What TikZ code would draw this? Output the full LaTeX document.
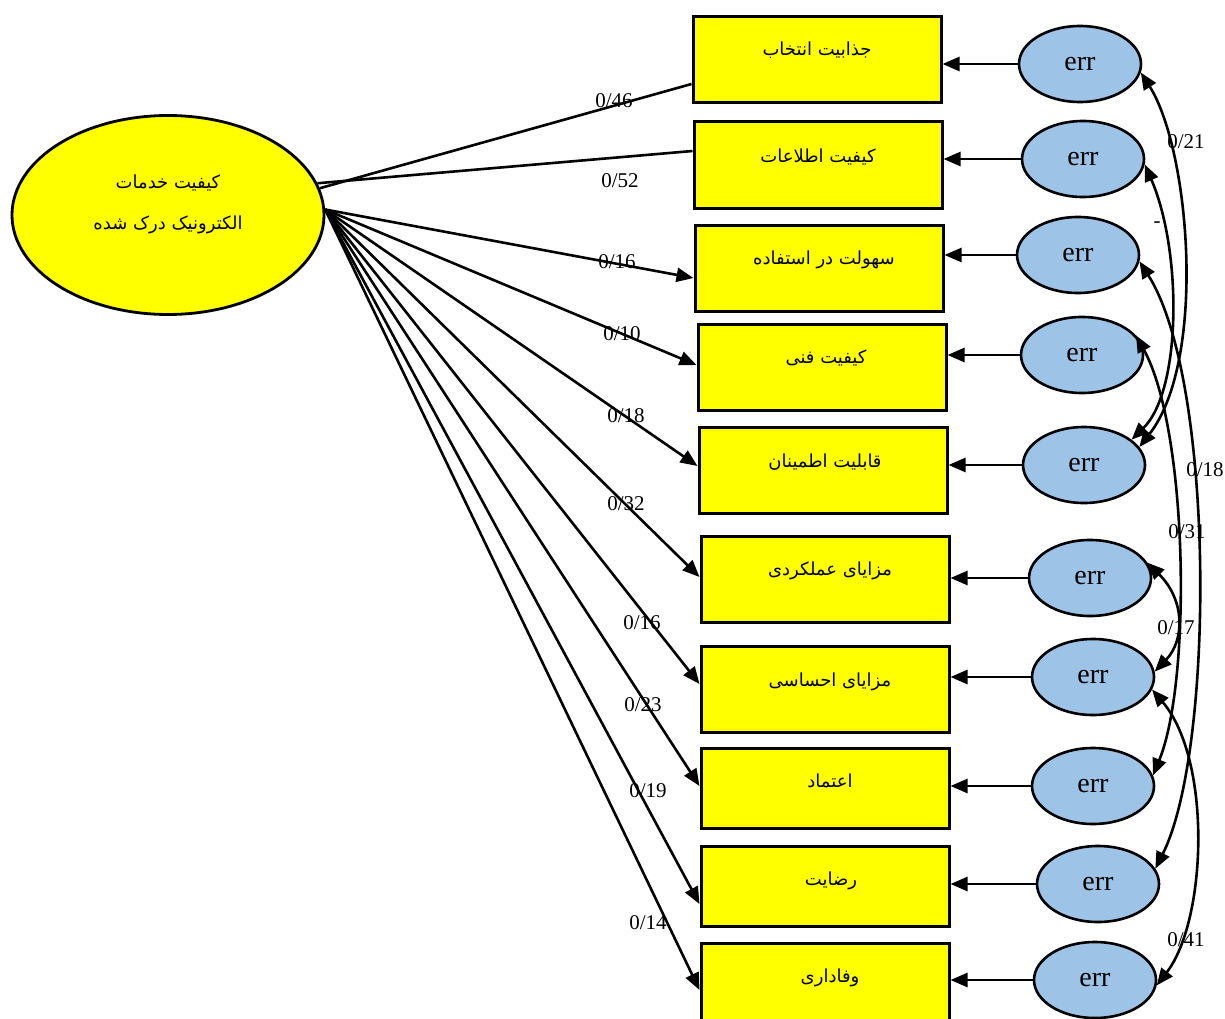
\documentclass[tikz,border=0pt]{standalone}
\usepackage{fontspec}
\setmainfont{Liberation Serif}
\newfontfamily\arabicfont[Script=Arabic]{DejaVu Sans}
\TeXXeTstate=1
\usetikzlibrary{arrows.meta,shapes.geometric,calc}
\definecolor{errblue}{RGB}{157,195,230}
\definecolor{boxyellow}{RGB}{255,255,0}
\begin{document}
\begin{tikzpicture}[x=1pt,y=-1pt,
  box/.style={draw,line width=3pt,fill=boxyellow,minimum width=248pt,minimum height=86pt,inner sep=0pt},
  errn/.style={ellipse,draw,line width=2.6pt,fill=errblue,minimum width=122pt,minimum height=76pt,inner sep=0pt,font=\fontsize{28}{30}\selectfont},
  ptext/.style={font=\arabicfont\fontsize{18}{20}\selectfont,inner sep=0pt},
  coef/.style={font=\fontsize{21}{24}\selectfont,inner sep=0pt},
  lnk/.style={line width=2.6pt},
  arr/.style={line width=2.6pt,-{Triangle[length=17pt,width=14pt]}},
  cov/.style={line width=2.6pt,{Triangle[length=17pt,width=14pt]}-{Triangle[length=17pt,width=14pt]}}]
\path[use as bounding box] (0,0) rectangle (1225,1019);
\clip (0,0) rectangle (1225,1019);

% latent factor
\node[ellipse,draw,line width=2.8pt,fill=boxyellow,minimum width=312pt,minimum height=199pt,inner sep=0pt] (F) at (168,215) {};
\node[ptext] (Ft1) at (168,183) {\beginR کیفیت خدمات\endR};
\node[ptext] (Ft2) at (168,225) {\beginR الکترونیک درک شده\endR};

% indicator boxes
\node[box] (b1) at (817,60) {};
\node[box] (b2) at (818,165) {};
\node[box] (b3) at (819,268) {};
\node[box] (b4) at (822,367) {};
\node[box] (b5) at (823,470) {};
\node[box] (b6) at (825,579) {};
\node[box] (b7) at (825,689) {};
\node[box,minimum height=80pt] (b8) at (825,788) {};
\node[box,minimum height=80pt] (b9) at (825,886) {};
\node[box] (b10) at (825,986) {};

\node[ptext] (t1) at (817,50) {\beginR جذابیت انتخاب\endR};
\node[ptext] (t2) at (818,157) {\beginR کیفیت اطلاعات\endR};
\node[ptext] (t3) at (824,260) {\beginR سهولت در استفاده\endR};
\node[ptext] (t4) at (826,358) {\beginR کیفیت فنی\endR};
\node[ptext] (t5) at (825,462) {\beginR قابلیت اطمینان\endR};
\node[ptext] (t6) at (830,571) {\beginR مزایای عملکردی\endR};
\node[ptext] (t7) at (830,682) {\beginR مزایای احساسی\endR};
\node[ptext] (t8) at (830,781) {\beginR اعتماد\endR};
\node[ptext] (t9) at (831,881) {\beginR رضایت\endR};
\node[ptext] (t10) at (830,978) {\beginR وفاداری\endR};

% error terms
\node[errn] (e1) at (1080,64) {err};
\node[errn] (e2) at (1083,159) {err};
\node[errn] (e3) at (1078,255) {err};
\node[errn] (e4) at (1082,355) {err};
\node[errn] (e5) at (1084,465) {err};
\node[errn] (e6) at (1090,578) {err};
\node[errn] (e7) at (1093,677) {err};
\node[errn] (e8) at (1093,786) {err};
\node[errn] (e9) at (1098,884) {err};
\node[errn] (e10) at (1095,980) {err};

% loadings
\draw[lnk] (F.10) -- ([yshift=-24pt]b1.west);
\draw[lnk] (F.12) -- ([yshift=14pt]b2.west);
\draw[arr] (F.2) -- ([yshift=-10pt]b3.west);
\draw[arr] (F.2) -- ([yshift=2pt]b4.west);
\draw[arr] (F.2) -- ([yshift=4pt]b5.west);
\draw[arr] (F.2) -- ([yshift=2pt]b6.west);
\draw[arr] (F.2) -- ([yshift=5pt]b7.west);
\draw[arr] (F.2) -- ([yshift=2pt]b8.west);
\draw[arr] (F.2) -- ([yshift=-18pt]b9.west);
\draw[arr] (F.2) -- ([yshift=-4pt]b10.west);

\node[coef] (l1) at (614,101) {0/46};
\node[coef] (l2) at (620,181) {0/52};
\node[coef] (l3) at (617,262) {0/16};
\node[coef] (l4) at (622,334) {0/10};
\node[coef] (l5) at (626,416) {0/18};
\node[coef] (l6) at (626,504) {0/32};
\node[coef] (l7) at (642,623) {0/16};
\node[coef] (l8) at (643,705) {0/23};
\node[coef] (l9) at (648,791) {0/19};
\node[coef] (l10) at (648,923) {0/14};

% error paths
\foreach \i in {1,...,10}{
  \draw[arr] (e\i.west) -- (e\i.west -| b\i.east);
}

% covariances
\draw[cov] (e1.-8) .. controls (1190,150) and (1207,360) .. (e5.18);
\draw[cov] (e2.-5) .. controls (1182,250) and (1182,390) .. (e5.28);
\draw[cov] (e3.-6) .. controls (1215,380) and (1215,750) .. (e9.15);
\draw[cov] (e4.20) .. controls (1188,430) and (1192,680) .. (e8.10);
\draw[cov] (e6.15) .. controls (1185,600) and (1185,640) .. (e7.5);
\draw[cov] (e7.-12) .. controls (1212,760) and (1207,920) .. (e10.-5);

\node[coef] (c1) at (1186,142) {0/21};
\node[coef] (c2) at (1157,225) {-};
\node[coef] (c3) at (1205,470) {0/18};
\node[coef] (c4) at (1187,532) {0/31};
\node[coef] (c5) at (1176,628) {0/17};
\node[coef] (c6) at (1186,940) {0/41};
\end{tikzpicture}
\end{document}
